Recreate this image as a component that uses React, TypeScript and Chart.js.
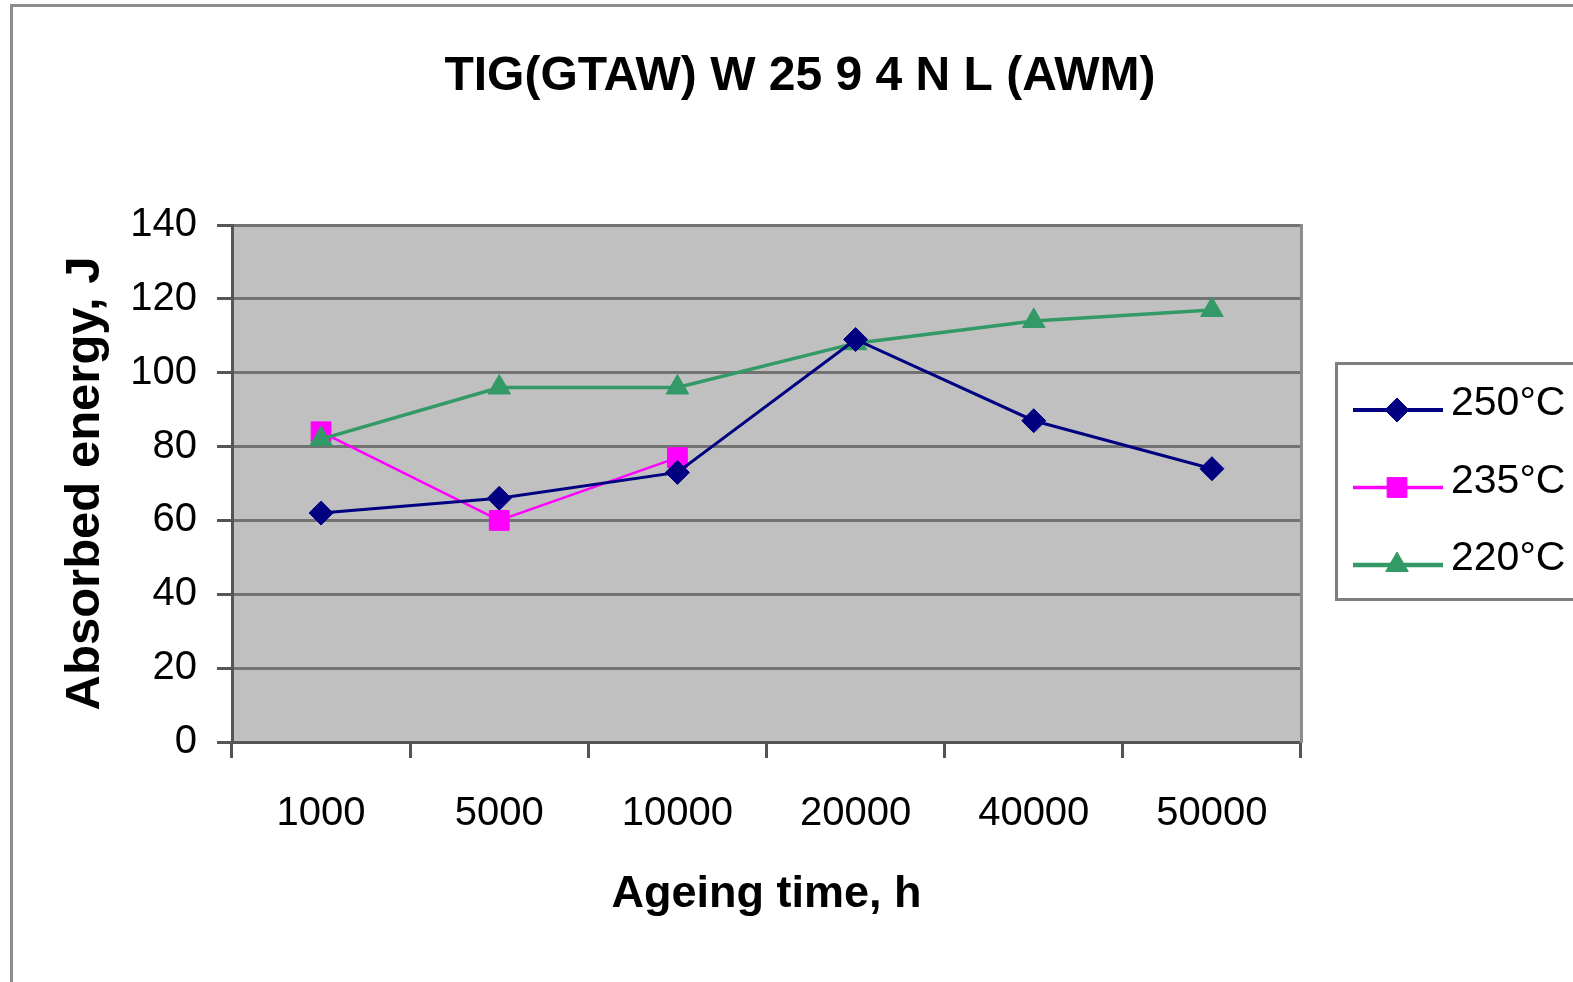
import React, { useEffect, useRef } from 'react';
import { Chart, registerables } from 'chart.js';
import { drawPoint } from 'chart.js/helpers';

Chart.register(...registerables);

// ---- data ----
const categories = ['1000', '5000', '10000', '20000', '40000', '50000'];
const seriesLabels = ['250°C', '235°C', '220°C'];
const values250 = [62, 66, 73, 109, 87, 74];
const values235 = [84, 60, 77, null, null, null];
const values220 = [82, 96, 96, 108, 114, 117];
const yTickValues = [0, 20, 40, 60, 80, 100, 120, 140];
const chartTitle = 'TIG(GTAW) W 25 9 4 N L (AWM)';
const xTitle = 'Ageing time, h';
const yTitle = 'Absorbed energy, J';

const FONT = "'Liberation Sans', Arial, sans-serif";
const CANVAS_W = 1600;
const CANVAS_H = 982;

const framePlugin = {
  id: 'excelFrame',
  beforeDraw(chart: any) {
    const { ctx, chartArea: a } = chart;
    ctx.save();
    ctx.fillStyle = '#ffffff';
    ctx.fillRect(0, 0, chart.width, chart.height);
    ctx.fillStyle = '#c0c0c0';
    ctx.fillRect(a.left, a.top, a.right - a.left, a.bottom - a.top);
    ctx.strokeStyle = '#8c8c8c';
    ctx.lineWidth = 3;
    ctx.beginPath();
    ctx.moveTo(11.5, chart.height + 5);
    ctx.lineTo(11.5, 5.5);
    ctx.lineTo(chart.width + 5, 5.5);
    ctx.stroke();
    ctx.restore();
  },
};

const legendPlugin = {
  id: 'excelLegend',
  afterDraw(chart: any) {
    const ctx = chart.ctx;
    ctx.save();
    ctx.strokeStyle = '#7f7f7f';
    ctx.lineWidth = 3;
    ctx.strokeRect(1336.5, 363.5, 400, 236);
    chart.data.datasets.forEach((ds: any, i: number) => {
      const y = 410 + i * 77.5;
      ctx.strokeStyle = ds.borderColor;
      ctx.lineWidth = ds.borderWidth + 1;
      ctx.beginPath();
      ctx.moveTo(1353, y);
      ctx.lineTo(1443, y);
      ctx.stroke();
      ctx.fillStyle = ds.pointBackgroundColor;
      ctx.strokeStyle = ds.pointBorderColor;
      ctx.lineWidth = 1;
      drawPoint(ctx, { pointStyle: ds.pointStyle, radius: ds.pointRadius, rotation: 0, borderWidth: 1 } as any, 1397, y);
      ctx.fillStyle = '#000000';
      ctx.font = `41px ${FONT}`;
      ctx.textBaseline = 'middle';
      ctx.textAlign = 'left';
      ctx.fillText(ds.label, 1451, y - 6);
    });
    ctx.restore();
  },
};

export default function App() {
  const ref = useRef<HTMLCanvasElement | null>(null);

  useEffect(() => {
    if (!ref.current) return;
    const chart = new Chart(ref.current, {
      type: 'line',
      data: {
        labels: categories,
        datasets: [
          {
            label: seriesLabels[0],
            data: values250,
            borderColor: '#000080',
            backgroundColor: '#000080',
            pointBackgroundColor: '#000080',
            pointBorderColor: '#000080',
            borderWidth: 3,
            pointStyle: 'rectRot',
            pointRadius: 12,
            pointBorderWidth: 1,
            tension: 0,
            order: 0,
          },
          {
            label: seriesLabels[1],
            data: values235,
            borderColor: '#ff00ff',
            backgroundColor: '#ff00ff',
            pointBackgroundColor: '#ff00ff',
            pointBorderColor: '#ff00ff',
            borderWidth: 2.5,
            pointStyle: 'rect',
            pointRadius: 14,
            pointBorderWidth: 1,
            tension: 0,
            spanGaps: false,
            order: 2,
          },
          {
            label: seriesLabels[2],
            data: values220,
            borderColor: '#339966',
            backgroundColor: '#339966',
            pointBackgroundColor: '#339966',
            pointBorderColor: '#339966',
            borderWidth: 3.5,
            pointStyle: 'triangle',
            pointRadius: 13,
            pointBorderWidth: 1,
            tension: 0,
            order: 1,
          },
        ],
      },
      options: {
        animation: false,
        responsive: false,
        devicePixelRatio: 1,
        layout: { padding: 0 },
        plugins: {
          legend: { display: false },
          tooltip: { enabled: false },
          title: {
            display: true,
            text: chartTitle,
            color: '#000000',
            font: { family: FONT, size: 48, weight: 'bold' },
            padding: { top: 48, bottom: 119.4 },
          },
        },
        scales: {
          x: {
            type: 'category',
            offset: true,
            grid: {
              offset: true,
              drawOnChartArea: false,
              drawTicks: true,
              tickLength: 16,
              tickColor: '#555555',
              tickWidth: 3,
              color: '#555555',
            },
            border: { display: true, color: '#555555', width: 3 },
            ticks: {
              color: '#000000',
              font: { family: FONT, size: 40 },
              padding: 32,
              maxRotation: 0,
              autoSkip: false,
            },
            title: {
              display: true,
              text: xTitle,
              color: '#000000',
              font: { family: FONT, size: 45, weight: 'bold' },
              padding: { top: 0, bottom: 60 },
            },
            afterFit: (s: any) => {
              s.height = 240;
            },
          },
          y: {
            type: 'linear',
            position: 'left',
            min: 0,
            max: 140,
            afterBuildTicks: (s: any) => {
              s.ticks = yTickValues.map((v) => ({ value: v }));
            },
            grid: {
              color: '#727272',
              lineWidth: 3,
              tickLength: 15,
              tickColor: '#555555',
              drawTicks: true,
            },
            border: { display: true, color: '#555555', width: 3 },
            ticks: {
              color: '#000000',
              font: { family: FONT, size: 40 },
              padding: 20,
            },
            title: {
              display: true,
              text: yTitle,
              color: '#000000',
              font: { family: FONT, size: 49, weight: 'bold' },
              padding: { top: 56, bottom: 0 },
            },
            afterFit: (s: any) => {
              s.width = 232;
            },
          },
          yRight: {
            type: 'linear',
            position: 'right',
            min: 0,
            max: 140,
            grid: { display: false, drawOnChartArea: false, drawTicks: false },
            border: { display: true, color: '#8c8c8c', width: 3 },
            ticks: { display: false },
            afterFit: (s: any) => {
              s.width = CANVAS_W - 1301;
            },
          },
        },
      },
      plugins: [framePlugin, legendPlugin],
    });
    return () => chart.destroy();
  }, []);

  return (
    <div
      style={{
        position: 'absolute',
        left: 0,
        top: 0,
        width: 1573,
        height: 982,
        overflow: 'hidden',
        background: '#ffffff',
      }}
    >
      <canvas ref={ref} width={CANVAS_W} height={CANVAS_H} style={{ display: 'block' }} />
    </div>
  );
}
